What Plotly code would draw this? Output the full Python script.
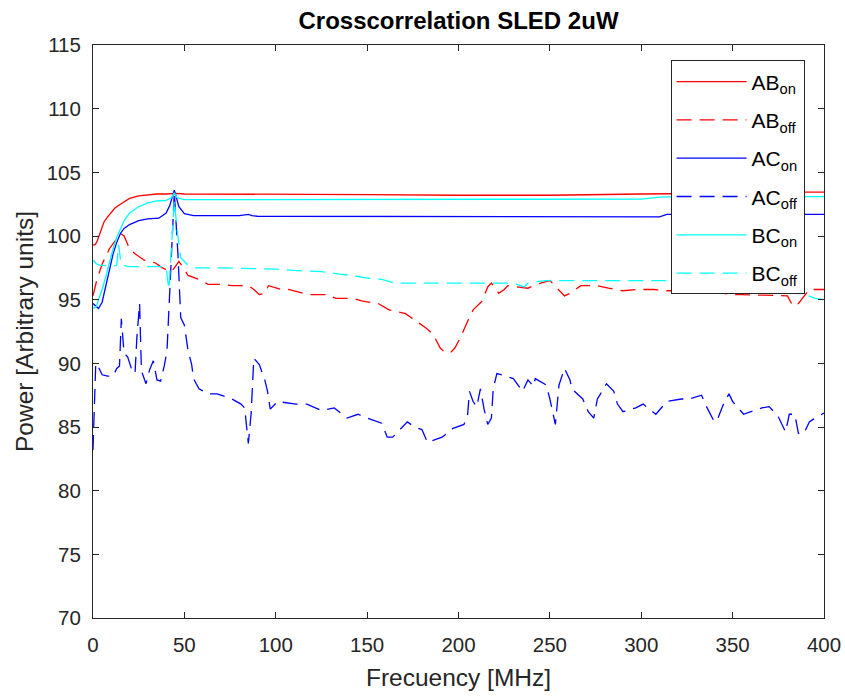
import plotly.graph_objects as go

# ---------------- data ----------------
ab_on_x = [0, 1, 2, 3, 4, 5, 6, 8, 10, 12, 15, 18, 20, 25, 30, 35, 40, 45, 50, 100, 150, 200, 250, 300, 350, 380, 385, 400]
ab_on_y = [99.3, 99.3, 99.5, 99.9, 100.3, 100.7, 101.1, 101.5, 101.9, 102.2, 102.5, 102.8, 102.95, 103.15, 103.25, 103.3, 103.3, 103.35, 103.3, 103.3, 103.25, 103.2, 103.2, 103.3, 103.35, 103.4, 103.45, 103.45]

ab_off_x = [0, 2, 5, 9, 13, 15, 17, 20, 23, 28, 34, 38, 41, 43, 45, 47, 49, 52, 58, 63, 70, 76, 85, 88, 91, 94, 96, 103, 107, 118, 128, 133, 142, 147, 156, 162, 171, 177, 182, 186, 190, 193, 196, 198, 201, 205, 208, 213, 216, 218, 222, 225, 227, 238, 241, 245, 250, 254, 258, 261, 267, 276, 282, 290, 298, 307, 312, 317, 340, 350, 355, 380, 383, 386, 390, 392, 400]
ab_off_y = [95.3, 96.5, 97.8, 99.0, 99.8, 100.2, 100.0, 99.0, 98.6, 98.1, 97.9, 97.5, 97.3, 97.2, 97.6, 98.0, 97.6, 96.9, 96.6, 96.2, 96.2, 96.1, 96.1, 95.8, 95.4, 95.5, 96.1, 95.8, 95.8, 95.4, 95.4, 95.1, 95.1, 94.9, 94.7, 94.2, 93.9, 93.3, 92.8, 92.3, 91.2, 90.8, 90.9, 91.2, 92.0, 93.3, 94.2, 94.9, 96.0, 96.3, 95.5, 95.8, 96.1, 95.9, 96.1, 96.3, 96.5, 95.9, 95.3, 95.5, 96.1, 96.1, 95.9, 95.7, 95.8, 95.8, 95.7, 95.7, 95.6, 95.4, 95.4, 95.3, 94.5, 94.7, 95.4, 95.8, 95.8]

ac_on_x = [0, 2, 3, 5, 7, 9, 11, 13, 15, 17, 20, 25, 30, 36, 40, 42, 44.5, 47, 50, 55, 80, 85, 87, 90, 100, 150, 200, 250, 300, 310, 314, 320, 400]
ac_on_y = [94.7, 94.4, 94.3, 94.8, 96.0, 97.4, 98.6, 99.5, 100.2, 100.6, 100.9, 101.2, 101.35, 101.4, 101.8, 102.4, 103.6, 102.3, 101.75, 101.6, 101.6, 101.7, 101.6, 101.55, 101.55, 101.5, 101.5, 101.5, 101.5, 101.5, 101.7, 101.7, 101.7]

ac_off_x = [0, 1.5, 3, 5, 8, 11, 13, 14.5, 15.5, 17, 19, 21, 23, 24, 25.5, 26.5, 29, 31, 33, 35, 37, 39, 40.5, 42, 44.5, 46.5, 48, 50, 52, 54, 55, 58, 63, 68, 76, 81, 83, 85, 86.5, 88, 91, 94, 95.5, 97, 101, 111, 117, 125, 132, 139, 145, 152, 158, 161, 164, 168, 172, 176, 180, 183, 187, 191, 197, 203, 205, 206, 208, 210, 212, 214, 216, 218, 219, 221, 226, 230, 235, 238, 241, 242, 248, 250, 253, 255, 258, 261, 262, 268, 271, 274, 276, 281, 285, 287, 290, 297, 301, 308, 314, 322, 326, 333, 335, 340, 342, 345, 348, 350, 356, 366, 370, 375, 379, 381, 384, 386, 389, 392, 394, 400]
ac_off_y = [83.2, 90.0, 89.7, 89.1, 89.0, 89.0, 89.6, 89.8, 93.5, 90.8, 90.5, 89.6, 89.2, 92.0, 94.7, 89.4, 88.4, 89.5, 90.2, 88.7, 88.6, 89.8, 91.0, 96.0, 103.4, 98.5, 93.6, 93.0, 91.0, 89.9, 88.8, 88.0, 87.6, 87.6, 87.2, 86.8, 86.5, 83.7, 86.0, 90.4, 89.9, 88.7, 87.8, 86.4, 87.0, 86.8, 86.8, 86.3, 86.5, 85.7, 86.0, 85.6, 85.3, 84.2, 84.2, 84.8, 85.4, 85.0, 84.8, 83.8, 84.0, 84.2, 84.9, 85.2, 86.0, 87.8, 87.0, 86.6, 88.0, 86.4, 85.2, 85.7, 88.0, 89.2, 89.0, 88.8, 87.8, 88.7, 88.2, 88.8, 88.3, 87.2, 85.2, 88.3, 89.6, 88.7, 88.0, 87.2, 86.2, 85.7, 87.2, 88.4, 87.8, 86.8, 86.2, 86.5, 86.8, 86.0, 87.0, 87.2, 87.2, 87.5, 86.8, 85.4, 85.7, 86.8, 87.6, 87.0, 86.0, 86.5, 86.6, 85.8, 84.6, 86.0, 86.0, 84.5, 84.5, 85.4, 85.6, 86.1]

bc_on_x = [0, 2, 3, 5, 7, 9, 11, 13, 15, 17, 20, 25, 30, 35, 40, 43, 44.5, 46, 50, 60, 100, 150, 200, 250, 300, 310, 320, 400]
bc_on_y = [94.3, 94.5, 95.0, 95.8, 96.8, 98.0, 99.0, 99.9, 100.6, 101.2, 101.8, 102.3, 102.6, 102.75, 102.8, 103.0, 103.4, 103.0, 102.85, 102.85, 102.85, 102.85, 102.85, 102.85, 102.9, 103.05, 103.1, 103.1]

bc_off_x = [0, 2, 4, 6, 10, 13, 14, 15, 16, 20, 30, 40, 41.5, 43, 44.5, 46, 48, 52, 56, 70, 100, 110, 125, 135, 142, 150, 158, 165, 200, 230, 236, 238, 241, 248, 256, 300, 315, 318, 370, 388, 395, 400]
bc_off_y = [98.1, 97.8, 97.7, 97.7, 97.6, 97.7, 99.3, 98.2, 97.7, 97.6, 97.6, 97.6, 95.8, 99.5, 102.8, 100.5, 98.3, 97.7, 97.5, 97.5, 97.4, 97.3, 97.2, 97.0, 96.9, 96.7, 96.6, 96.3, 96.3, 96.3, 96.0, 96.3, 96.4, 96.5, 96.5, 96.5, 96.5, 96.6, 96.6, 95.5, 95.1, 95.0]

x_ticks = [0, 50, 100, 150, 200, 250, 300, 350, 400]
y_ticks = [70, 75, 80, 85, 90, 95, 100, 105, 110, 115]

series = [
    ("AB<sub>on</sub>", ab_on_x, ab_on_y, "#FF0000", "solid"),
    ("AB<sub>off</sub>", ab_off_x, ab_off_y, "#FF0000", "15px,8px"),
    ("AC<sub>on</sub>", ac_on_x, ac_on_y, "#0000FF", "solid"),
    ("AC<sub>off</sub>", ac_off_x, ac_off_y, "#0000FF", "15px,8px"),
    ("BC<sub>on</sub>", bc_on_x, bc_on_y, "#00FFFF", "solid"),
    ("BC<sub>off</sub>", bc_off_x, bc_off_y, "#00FFFF", "15px,8px"),
]

FONT = "Liberation Sans, Arial, Helvetica, sans-serif"
AX = "#262626"

fig = go.Figure()
for i, (name, xs, ys, col, dash) in enumerate(series):
    fig.add_trace(go.Scatter(
        x=xs, y=ys, mode="lines", name=name, legendgroup=f"g{i}",
        line=dict(color=col, width=1.3, dash=dash),
    ))

axis_common = dict(
    showgrid=False, zeroline=False, showline=True, linecolor=AX, linewidth=1,
    mirror="ticks", ticks="inside", ticklen=6, tickwidth=1, tickcolor=AX,
    tickfont=dict(family=FONT, size=20.5, color=AX),
)

fig.update_layout(
    width=845, height=696,
    paper_bgcolor="white", plot_bgcolor="white",
    margin=dict(l=93, r=21, t=45, b=78, autoexpand=False),
    title=dict(text="<b>Crosscorrelation SLED 2uW</b>", x=0.5, xref="paper",
               y=1 - 21 / 696, yref="container", yanchor="middle", xanchor="center",
               font=dict(family=FONT, size=24, color="black")),
    xaxis=dict(range=[0, 400], tickvals=x_ticks, ticktext=[str(v) for v in x_ticks],
               title=dict(text="Frecuency [MHz]", font=dict(family=FONT, size=24.5, color=AX), standoff=14),
               ticklabelstandoff=8, **axis_common),
    yaxis=dict(range=[70, 115], tickvals=y_ticks, ticktext=[str(v) for v in y_ticks],
               title=dict(text="Power [Arbitrary units]", font=dict(family=FONT, size=24.5, color=AX), standoff=6),
               ticklabelstandoff=7, **axis_common),
    legend=dict(x=0.9734, y=0.973, xanchor="right", yanchor="top",
                bgcolor="white", bordercolor=AX, borderwidth=1,
                font=dict(family=FONT, size=21, color="black"),
                itemwidth=70, tracegroupgap=8, traceorder="grouped"),
    showlegend=True,
)

fig.write_html("out.html", config={"displayModeBar": False},
               post_script="document.body.style.margin='0px';")
